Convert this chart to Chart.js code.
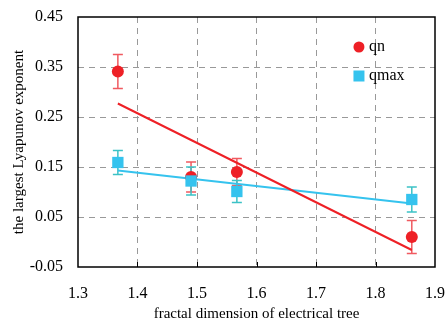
<!DOCTYPE html>
<html>
<head>
<meta charset="utf-8">
<script src="https://cdn.jsdelivr.net/npm/chart.js@4/dist/chart.umd.min.js"></script>
<style>
  html, body { margin: 0; padding: 0; background: #fff; }
  #wrap { width: 447px; height: 323px; }
</style>
</head>
<body>
<div id="wrap"><canvas id="chart"></canvas></div>
<script>
// fractal dimension (x) for each sample
const dims = [1.367, 1.49, 1.567, 1.861];

// largest Lyapunov exponent, with error half-widths
const qnVals = [0.341, 0.13, 0.14, 0.01];
const qnErr = [0.034, 0.03, 0.027, 0.033];
const qmaxVals = [0.159, 0.122, 0.101, 0.085];
const qmaxErr = [0.024, 0.028, 0.022, 0.025];

// linear fit end points
const qnFitX = [1.367, 1.861];
const qnFitY = [0.277, -0.016];
const qmaxFitX = [1.367, 1.861];
const qmaxFitY = [0.143, 0.077];

const xTicks = [1.3, 1.4, 1.5, 1.6, 1.7, 1.8, 1.9];
const yTicks = [-0.05, 0.05, 0.15, 0.25, 0.35, 0.45];

const RED = "#ee2026";
const RED_ERR = "#f05a60";
const BLUE = "#35c3ee";
const BLUE_ERR = "#3cc2c6";
const SERIF = "'Liberation Serif', 'Times New Roman', serif";

const toPts = (xs, ys) => xs.map((x, i) => ({ x: x, y: ys[i] }));

// error bars, frame, x tick marks and legend
const extras = {
  id: "extras",
  beforeDatasetsDraw(chart) {
    const { ctx, scales: { x, y } } = chart;
    const bars = [
      [qnVals, qnErr, RED_ERR],
      [qmaxVals, qmaxErr, BLUE_ERR],
    ];
    ctx.save();
    ctx.lineWidth = 1.5;
    bars.forEach(([vals, errs, col]) => {
      ctx.strokeStyle = col;
      vals.forEach((v, i) => {
        const px = x.getPixelForValue(dims[i]);
        const top = y.getPixelForValue(v + errs[i]);
        const bot = y.getPixelForValue(v - errs[i]);
        ctx.beginPath();
        ctx.moveTo(px, top); ctx.lineTo(px, bot);
        ctx.moveTo(px - 5, top); ctx.lineTo(px + 5, top);
        ctx.moveTo(px - 5, bot); ctx.lineTo(px + 5, bot);
        ctx.stroke();
      });
    });
    ctx.restore();
  },
  afterDraw(chart) {
    const { ctx, chartArea: a, scales: { x } } = chart;
    ctx.save();
    ctx.strokeStyle = "#000";
    ctx.lineWidth = 1.5;
    ctx.strokeRect(a.left, a.top, a.right - a.left, a.bottom - a.top);
    ctx.lineWidth = 1;
    xTicks.slice(1, -1).forEach(t => {
      const px = Math.round(x.getPixelForValue(t)) + 0.5;
      ctx.beginPath();
      ctx.moveTo(px, a.bottom); ctx.lineTo(px, a.bottom - 5);
      ctx.stroke();
    });
    // legend
    const lx = a.left + (a.right - a.left) * 0.787;
    const ly1 = a.top + 30;
    const ly2 = a.top + 59;
    ctx.fillStyle = RED;
    ctx.beginPath();
    ctx.arc(lx, ly1, 5.5, 0, Math.PI * 2);
    ctx.fill();
    ctx.fillStyle = BLUE;
    ctx.fillRect(lx - 5.5, ly2 - 5.5, 11, 11);
    ctx.fillStyle = "#000";
    ctx.font = "16px " + SERIF;
    ctx.textBaseline = "middle";
    ctx.fillText("qn", lx + 10, ly1);
    ctx.fillText("qmax", lx + 10, ly2);
    ctx.restore();
  },
};

const gridOpts = {
  drawTicks: false,
  lineWidth: 1,
};
// in v4 the grid-line dash lives under border.dash
const borderOpts = { display: false, dash: [6, 5] };

new Chart(document.getElementById("chart"), {
  type: "scatter",
  data: {
    datasets: [
      {
        label: "qn fit",
        data: toPts(qnFitX, qnFitY),
        showLine: true,
        borderColor: RED,
        borderWidth: 2,
        pointRadius: 0,
        order: 2,
      },
      {
        label: "qmax fit",
        data: toPts(qmaxFitX, qmaxFitY),
        showLine: true,
        borderColor: BLUE,
        borderWidth: 2,
        pointRadius: 0,
        order: 3,
      },
      {
        label: "qn",
        data: toPts(dims, qnVals),
        pointStyle: "circle",
        pointRadius: 6,
        backgroundColor: RED,
        borderColor: RED,
        borderWidth: 0,
        order: 1,
      },
      {
        label: "qmax",
        data: toPts(dims, qmaxVals),
        pointStyle: "rect",
        pointRadius: 8,
        backgroundColor: BLUE,
        borderColor: BLUE,
        borderWidth: 0,
        order: 0,
      },
    ],
  },
  options: {
    responsive: true,
    maintainAspectRatio: false,
    animation: false,
    layout: { padding: { left: 0, top: 17, right: 12, bottom: 0 } },
    plugins: {
      legend: { display: false },
      tooltip: { enabled: false },
    },
    scales: {
      x: {
        type: "linear",
        min: 1.3,
        max: 1.9,
        afterBuildTicks: s => { s.ticks = xTicks.map(v => ({ value: v })); },
        afterFit: s => { s.height = 56; s.paddingLeft = 0; s.paddingRight = 0; },
        border: borderOpts,
        grid: {
          ...gridOpts,
          color: ctx => (ctx.index === 0 || ctx.index === xTicks.length - 1) ? "rgba(0,0,0,0)" : "#999",
        },
        ticks: {
          color: "#000",
          padding: 17,
          maxRotation: 0,
          font: { family: SERIF, size: 16 },
          callback: v => v.toFixed(1),
        },
        title: {
          display: true,
          text: "fractal dimension of electrical tree",
          color: "#000",
          padding: { top: 0, bottom: 0 },
          font: { family: SERIF, size: 15 },
        },
      },
      y: {
        type: "linear",
        min: -0.05,
        max: 0.45,
        afterBuildTicks: s => { s.ticks = yTicks.map(v => ({ value: v })); },
        afterFit: s => { s.width = 78; s.paddingTop = 0; s.paddingBottom = 0; },
        border: borderOpts,
        grid: {
          ...gridOpts,
          color: ctx => (ctx.index === 0 || ctx.index === yTicks.length - 1) ? "rgba(0,0,0,0)" : "#999",
        },
        ticks: {
          color: "#000",
          padding: 15,
          font: { family: SERIF, size: 16 },
          callback: v => v.toFixed(2),
        },
        title: {
          display: true,
          text: "the largest Lyapunov exponent",
          color: "#000",
          padding: { top: 10, bottom: 0 },
          font: { family: SERIF, size: 15 },
        },
      },
    },
  },
  plugins: [extras],
});
</script>
</body>
</html>
